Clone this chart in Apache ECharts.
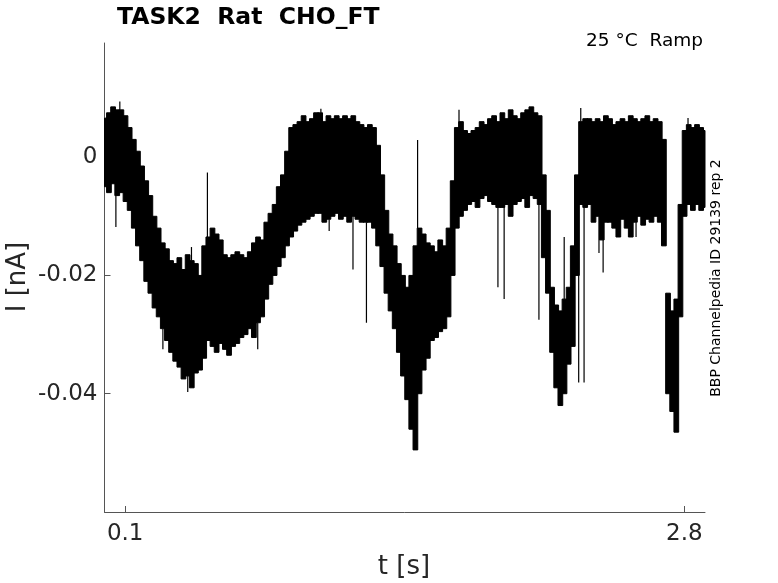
<!DOCTYPE html>
<html>
<head>
<meta charset="utf-8">
<script src="https://cdn.jsdelivr.net/npm/echarts@6/dist/echarts.min.js"></script>
<style>html,body{margin:0;padding:0;background:#fff}#c{width:778px;height:583px}</style>
</head>
<body>
<div id="c"></div>
<script>
// Sampling grid (s)
const T0 = 0, DT = 0.02, N = 146;
// Upper envelope of the dense trace (nA), one value per time bin
const hi = [
0.0066,0.0075,0.0085,0.0080,0.0080,0.0070,0.0050,0.0030,0.0010,-0.0015,
-0.0040,-0.0065,-0.0100,-0.0120,-0.0145,-0.0155,-0.0175,-0.0180,-0.0170,-0.0190,
-0.0165,-0.0175,-0.0180,-0.0200,-0.0150,-0.0135,-0.0120,-0.0130,-0.0140,-0.0165,
-0.0170,-0.0165,-0.0160,-0.0165,-0.0170,-0.0160,-0.0145,-0.0135,-0.0140,-0.0110,
-0.0095,-0.0080,-0.0050,-0.0030,0.0010,0.0050,0.0055,0.0060,0.0070,0.0060,
0.0065,0.0075,0.0075,0.0060,0.0070,0.0065,0.0070,0.0065,0.0070,0.0065,
0.0070,0.0060,0.0055,0.0050,0.0055,0.0050,0.0020,-0.0030,-0.0090,-0.0130,
-0.0150,-0.0180,-0.0200,-0.0220,-0.0200,-0.0150,-0.0120,-0.0130,-0.0145,-0.0150,
-0.0160,-0.0140,-0.0150,-0.0120,-0.0040,0.0050,0.0060,0.0045,0.0040,0.0045,
0.0050,0.0060,0.0055,0.0065,0.0070,0.0060,0.0075,0.0065,0.0080,0.0070,
0.0065,0.0075,0.0080,0.0085,0.0075,0.0070,-0.0030,-0.0090,-0.0220,-0.0250,
-0.0260,-0.0240,-0.0220,-0.0150,-0.0030,0.0060,0.0065,0.0065,0.0060,0.0065,
0.0060,0.0070,0.0065,0.0055,0.0060,0.0065,0.0060,0.0070,0.0065,0.0060,
0.0065,0.0070,0.0060,0.0065,0.0060,0.0030,-0.0230,-0.0260,-0.0240,-0.0080,
0.0045,0.0055,0.0050,0.0055,0.0050,0.0045
];
// Lower envelope of the dense trace (nA)
const lo = [
-0.0050,-0.0060,-0.0045,-0.0065,-0.0060,-0.0075,-0.0090,-0.0120,-0.0150,-0.0175,
-0.0210,-0.0230,-0.0255,-0.0270,-0.0290,-0.0310,-0.0330,-0.0345,-0.0355,-0.0375,
-0.0370,-0.0390,-0.0365,-0.0360,-0.0340,-0.0310,-0.0320,-0.0330,-0.0315,-0.0325,
-0.0335,-0.0320,-0.0315,-0.0305,-0.0300,-0.0290,-0.0305,-0.0280,-0.0270,-0.0240,
-0.0215,-0.0200,-0.0185,-0.0170,-0.0150,-0.0135,-0.0125,-0.0115,-0.0110,-0.0105,
-0.0100,-0.0095,-0.0095,-0.0110,-0.0105,-0.0100,-0.0095,-0.0105,-0.0100,-0.0110,
-0.0100,-0.0105,-0.0110,-0.0110,-0.0110,-0.0120,-0.0150,-0.0185,-0.0230,-0.0260,
-0.0290,-0.0330,-0.0370,-0.0410,-0.0460,-0.0495,-0.0400,-0.0360,-0.0340,-0.0310,
-0.0305,-0.0295,-0.0290,-0.0270,-0.0200,-0.0120,-0.0100,-0.0090,-0.0080,-0.0075,
-0.0085,-0.0070,-0.0065,-0.0075,-0.0080,-0.0085,-0.0085,-0.0080,-0.0100,-0.0080,
-0.0075,-0.0070,-0.0085,-0.0065,-0.0070,-0.0080,-0.0170,-0.0230,-0.0330,-0.0390,
-0.0420,-0.0400,-0.0350,-0.0320,-0.0200,-0.0080,-0.0085,-0.0080,-0.0110,-0.0100,
-0.0140,-0.0110,-0.0110,-0.0120,-0.0135,-0.0105,-0.0120,-0.0135,-0.0110,-0.0100,
-0.0115,-0.0105,-0.0110,-0.0100,-0.0110,-0.0150,-0.0400,-0.0430,-0.0465,-0.0270,
-0.0100,-0.0080,-0.0090,-0.0080,-0.0090,-0.0085
];
// Isolated spikes beyond the dense band: [t (s), I (nA)]
const spikes = [
[0.055,-0.0118],[0.074,0.0094],[0.282,-0.0325],[0.402,-0.0397],[0.42,-0.0152],
[0.497,-0.0026],[0.74,-0.0325],[1.045,0.0082],[1.085,-0.0125],[1.2,-0.0190],
[1.265,-0.0280],[1.512,0.0029],[1.712,0.0080],[1.90,-0.0220],[1.93,-0.0240],
[2.098,-0.0275],[2.22,-0.0135],[2.29,-0.0381],[2.30,0.0083],[2.316,-0.0381],
[2.388,-0.0162],[2.408,-0.0195],[2.567,-0.0135],[2.818,0.0066]
];
const xTicks = [0.1, 2.8];
const yTicks = [-0.04, -0.02, 0];

const times = [];
for (let i = 0; i < N; i++) times.push(+(T0 + i * DT).toFixed(4));
const bandData = times.map((t, i) => [t, hi[i], lo[i]]);
const spikeData = spikes.map(([t, v]) => {
  const j = Math.max(0, Math.min(N - 1, Math.round((t - T0) / DT)));
  const base = v > hi[j] ? hi[j] : lo[j];
  return [t, base, v];
});

const FONT = 'DejaVu Sans';
const TXT = '#262626';
const chart = echarts.init(document.getElementById('c'), null, {renderer: 'canvas'});

function clipRect(r, params) {
  const cs = params.coordSys;
  return echarts.graphic.clipRectByRect(r, {x: cs.x, y: cs.y, width: cs.width, height: cs.height});
}

chart.setOption({
  animation: false,
  backgroundColor: '#fff',
  grid: {left: 104.5, right: 73, top: 43, bottom: 71, containLabel: false},
  xAxis: {
    type: 'value', min: 0, max: 2.9,
    axisLine: {show: true, onZero: false, lineStyle: {color: '#555', width: 1}},
    axisTick: {show: true, inside: true, length: 6, lineStyle: {color: '#555'}, customValues: xTicks},
    axisLabel: {show: true, customValues: xTicks, color: TXT, fontFamily: FONT, fontSize: 23, margin: 11,
      formatter: v => String(v)},
    splitLine: {show: false}
  },
  yAxis: {
    type: 'value', min: -0.06, max: 0.0193,
    axisLine: {show: true, onZero: false, lineStyle: {color: '#555', width: 1}},
    axisTick: {show: true, inside: true, length: 6, lineStyle: {color: '#555'}, customValues: yTicks},
    axisLabel: {show: true, customValues: yTicks, color: TXT, fontFamily: FONT, fontSize: 23, margin: 7,
      formatter: v => (Math.abs(v) < 1e-12 ? '0' : String(v))},
    splitLine: {show: false}
  },
  graphic: [
    {type: 'text', x: 117, y: 18, style: {text: 'TASK2  Rat  CHO_FT', fill: '#000', font: 'bold 23.5px "DejaVu Sans"', align: 'left', verticalAlign: 'middle'}},
    {type: 'text', x: 703, y: 41, style: {text: '25 °C  Ramp', fill: '#000', font: '18.5px "DejaVu Sans"', align: 'right', verticalAlign: 'middle'}},
    {type: 'text', x: 18, y: 277, rotation: Math.PI / 2, style: {text: 'I [nA]', fill: TXT, font: '26px "DejaVu Sans"', align: 'center', verticalAlign: 'middle'}},
    {type: 'text', x: 404, y: 567, style: {text: 't [s]', fill: TXT, font: '26px "DejaVu Sans"', align: 'center', verticalAlign: 'middle'}},
    {type: 'text', x: 716, y: 278, rotation: Math.PI / 2, style: {text: 'BBP Channelpedia ID 29139 rep 2', fill: '#000', font: '14px "DejaVu Sans"', align: 'center', verticalAlign: 'middle'}}
  ],
  series: [
    {
      type: 'custom',
      data: bandData,
      encode: {x: 0, y: [1, 2]},
      renderItem: (params, api) => {
        const t = api.value(0), h = api.value(1), l = api.value(2);
        const p1 = api.coord([t - DT / 2, h]);
        const p2 = api.coord([t + DT / 2, l]);
        const r = clipRect({x: p1[0], y: p1[1], width: p2[0] - p1[0] + 0.6, height: p2[1] - p1[1]}, params);
        return r && {type: 'rect', shape: r, style: {fill: '#000', stroke: '#000', lineWidth: 1}};
      }
    },
    {
      type: 'custom',
      data: spikeData,
      encode: {x: 0, y: [1, 2]},
      renderItem: (params, api) => {
        const t = api.value(0);
        const a = api.coord([t, api.value(1)]);
        const b = api.coord([t, api.value(2)]);
        return {type: 'line', shape: {x1: a[0], y1: a[1], x2: b[0], y2: b[1]}, style: {stroke: '#000', lineWidth: 1.2}};
      }
    }
  ]
});
</script>
</body>
</html>
